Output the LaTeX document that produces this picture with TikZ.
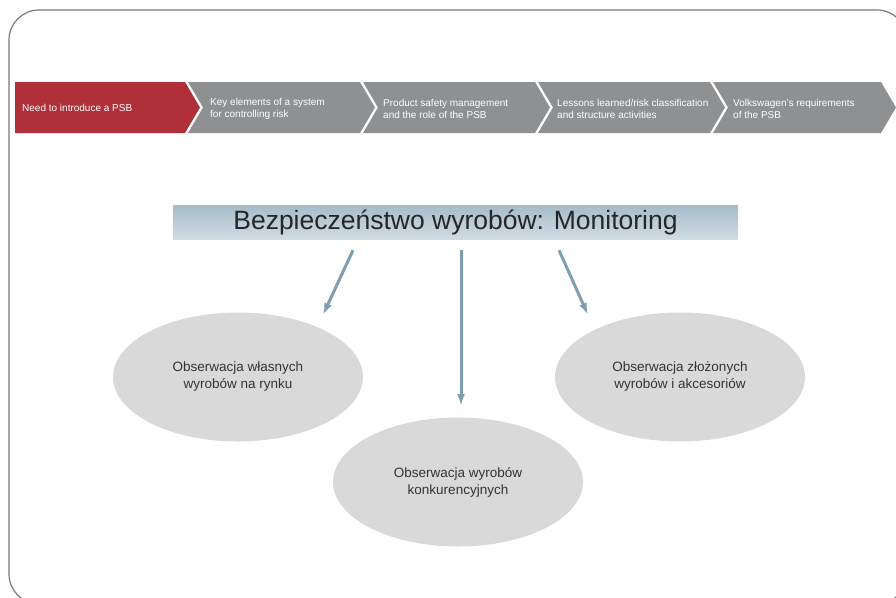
\documentclass[tikz,border=0pt]{standalone}
\usepackage{fontspec}
\setmainfont{Liberation Sans}
\usetikzlibrary{positioning, arrows.meta, shapes.geometric}
\definecolor{psbred}{HTML}{B0303A}
\definecolor{psbgray}{HTML}{8E9092}
\definecolor{bartop}{HTML}{A6BBCA}
\definecolor{barbottom}{HTML}{D0DCE4}
\definecolor{blobfill}{HTML}{D9D9D9}
\definecolor{arrowblue}{HTML}{7E9EB1}
\definecolor{framegray}{HTML}{7A7A7A}
\tikzset{
    steptext/.style={text=white, font=\fontsize{10}{12}\selectfont, align=left, anchor=west, inner sep=0pt}, % text on the chevrons
    monitor/.style={minimum width=565pt, minimum height=34pt, top color=bartop, bottom color=barbottom, text=black!85, font=\fontsize{26.5}{30}\selectfont}, % the title bar
    blob/.style={ellipse, fill=blobfill, minimum width=250pt, minimum height=129pt, inner sep=0pt, text=black!80, font=\fontsize{13.5}{17}\selectfont, align=center}, % grey ellipses
    feed/.style={-{Latex[length=12pt,width=8pt]}, arrowblue, line width=3pt}, % arrows from the title
    }

\begin{document}
\begin{tikzpicture}[x=1pt, y=-1pt]
\useasboundingbox (0,0) rectangle (896,597);
\draw[framegray, line width=1.2pt, rounded corners=30pt] (9,10) rectangle (907,604);

% chevron band
\fill[psbred] (15,82) -- (185,82) -- (200,107.5) -- (185,133) -- (15,133) -- cycle;
\foreach \l/\r in {188/360, 363/535, 538/710, 713/881}
    \fill[psbgray] (\l,82) -- (\r,82) -- (\r+15,107.5) -- (\r,133) -- (\l,133) -- (\l+15,107.5) -- cycle;

\node[steptext] (need) at (22,108) {Need to introduce a PSB};
\node[steptext] (key) at (210,109) {Key elements of a system\\for controlling risk};
\node[steptext] (mgmt) at (383,109) {Product safety management\\and the role of the PSB};
\node[steptext] (lessons) at (557,109) {Lessons learned/risk classification\\and structure activities};
\node[steptext] (vw) at (733,109) {Volkswagen's requirements\\of the PSB};

% title and ellipses
\node[monitor] (title) at (455.5,222) {Bezpieczeństwo wyrobów: Monitoring};
\node[blob] (own) at (238,377) {Obserwacja własnych\\wyrobów na rynku};
\node[blob] (rival) at (458,482) {Obserwacja wyrobów\\konkurencyjnych};
\node[blob] (extra) at (680,377) {Obserwacja złożonych\\wyrobów i akcesoriów};

\coordinate (ownin) at (323,315);
\coordinate (rivalin) at (461,406);
\coordinate (extrain) at (588,315);

\draw[feed] ([xshift=-102.5pt,yshift=-11pt]title.south) -- (ownin);
\draw[feed] ([xshift=5.5pt,yshift=-11pt]title.south) -- (rivalin);
\draw[feed] ([xshift=103.5pt,yshift=-11pt]title.south) -- (extrain);
\end{tikzpicture}
\end{document}
